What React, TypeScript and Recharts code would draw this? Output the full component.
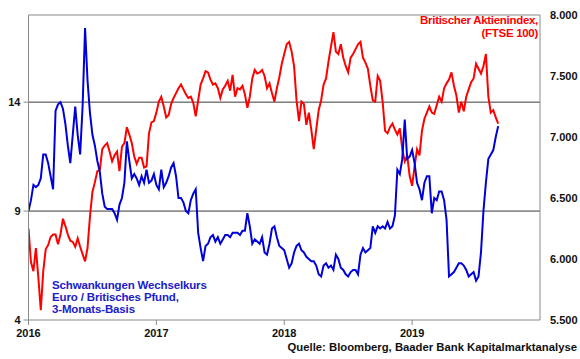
import React from 'react';
import { LineChart, Line, XAxis, YAxis, ReferenceLine } from 'recharts';

// weekly readings, first week of 2016 onwards
const VOLA = [
  9.0, 9.5, 10.2, 10.1, 10.2, 10.5, 11.6, 11.6, 11.2, 10.6, 10.0, 13.6, 13.9, 14.0, 13.7, 13.0, 12.0, 11.2, 12.5, 13.8,
  12.5, 11.6, 13.8, 17.4, 15.0, 13.5, 12.5, 12.0, 11.3, 10.8, 9.8, 9.2, 9.1,
  9.1, 9.1, 8.9, 8.6, 9.3, 9.6, 10.3, 12.2, 11.3, 10.5, 10.7, 10.5, 10.2, 10.6, 10.3, 10.9, 10.3, 10.4, 10.7, 10.2,
  10.0, 10.9, 10.1, 10.3, 10.6, 11.0, 11.2, 10.6, 9.6, 9.6, 9.4, 9.0, 8.9,
  9.5, 9.8, 10.0, 8.0, 7.3, 6.7, 7.4, 7.5, 7.8, 7.9, 7.6, 7.8, 7.5, 7.7, 7.9, 7.9, 7.8, 8.0, 8.0, 8.0,
  7.9, 8.1, 8.1, 8.9, 8.3, 7.5, 7.7, 7.6, 7.5, 7.8, 7.1, 7.0,
  7.5, 8.2, 8.3, 7.8, 7.4, 7.3, 7.2, 6.8, 6.4, 6.6, 7.1, 7.4, 7.5, 7.2, 7.1, 6.9, 6.8, 6.7, 6.7, 6.5,
  6.1, 6.0, 6.5, 6.6, 6.4, 6.5, 6.3, 7.0, 6.8, 6.4, 6.3, 6.1, 6.0,
  6.2, 6.3, 6.3, 6.1, 7.0, 7.3, 7.1, 7.2, 7.3, 8.3, 8.0, 8.3, 8.2, 8.3, 8.2, 8.5, 8.2, 8.3, 8.8, 10.9,
  10.7, 11.4, 13.2, 11.4, 11.5, 11.8, 11.2, 10.3, 10.0, 9.5, 10.3, 10.6, 10.6,
  8.9, 9.6, 9.5, 9.9, 9.9, 9.5, 8.6, 6.0, 6.1, 6.2, 6.4, 6.6, 6.6, 6.5, 6.3, 6.0, 6.1, 6.2, 5.8, 6.0,
  7.1, 9.0, 10.3, 11.4, 11.6, 11.8, 12.4, 12.9,
];

const FTSE = [
  6250, 5975, 5900, 6090, 5850, 5580, 5900, 6080, 6115, 6180, 6200, 6200, 6120, 6200, 6330, 6270, 6200, 6150, 6140, 6100,
  6170, 6100, 6040, 5980, 6090, 6350, 6550, 6630, 6720, 6730, 6900, 6930, 6950,
  6880, 6800, 6850, 6880, 6720, 6920, 6950, 7080, 7020, 6950, 6840, 6780, 6830, 6830, 6750, 6760, 7030, 7120, 7130, 7200,
  7290, 7330, 7250, 7160, 7180, 7270, 7320, 7360, 7400, 7430, 7390, 7350, 7320,
  7330, 7280, 7170, 7300, 7430, 7480, 7540, 7530, 7470, 7430, 7440, 7400, 7320, 7390, 7420, 7460, 7380, 7510, 7330, 7400,
  7390, 7420, 7350, 7240, 7330, 7480, 7550, 7520, 7530, 7550, 7500, 7400,
  7440, 7360, 7290, 7400, 7490, 7600, 7680, 7760, 7780, 7700, 7580, 7300, 7130, 7290, 7270, 7100, 7200, 7060, 6900, 7060,
  7220, 7300, 7430, 7480, 7620, 7740, 7860, 7700, 7680, 7760, 7650, 7580, 7530,
  7650, 7680, 7720, 7760, 7780, 7650, 7610, 7560, 7420, 7300, 7290, 7500, 7460, 7290, 7050, 7030, 7080, 7110, 7060, 7020,
  7070, 6900, 6800, 6850, 6680, 6600, 6760, 6900, 6850, 7050, 7150, 7200, 7250,
  7200, 7190, 7260, 7330, 7290, 7400, 7440, 7470, 7530, 7420, 7340, 7200, 7290, 7210, 7330, 7390, 7450, 7480, 7600, 7560,
  7520, 7580, 7680, 7330, 7200, 7220, 7160, 7110,
];

const YEAR_TICKS = [0, 52, 104, 156];
const YEAR_LABELS = ['2016', '2017', '2018', '2019'];
const LEFT_TICKS = [4, 9, 14];
const RIGHT_TICKS = [5500, 6000, 6500, 7000, 7500, 8000];

const data = VOLA.map((v, i) => ({ week: i, vola: v, ftse: FTSE[i] }));

const FONT = '"Liberation Sans", Arial, sans-serif';
const RED = '#ff0000';
const BLUE = '#0000d8';
const AXIS = '#8a8a8a';
const tickStyle = { fill: '#111', fontSize: 11, fontWeight: 'bold', fontFamily: FONT };

const fmtDE = (v: number) => `${Math.floor(v / 1000)}.${String(v % 1000).padStart(3, '0')}`;

export default function App() {
  return (
    <div style={{ position: 'absolute', left: 0, top: 0, width: 580, height: 359, background: '#fff', fontFamily: FONT }}>
      <LineChart width={580} height={359} data={data} margin={{ top: 15, right: 0, bottom: 0, left: 0 }}>
        <XAxis
          dataKey="week"
          type="number"
          domain={[0, 208]}
          ticks={YEAR_TICKS}
          tickFormatter={(v: number) => YEAR_LABELS[YEAR_TICKS.indexOf(v)]}
          height={39}
          tickSize={5}
          tickMargin={4}
          stroke={AXIS}
          tick={tickStyle}
          allowDataOverflow
        />
        <YAxis
          yAxisId="left"
          domain={[4, 18]}
          ticks={LEFT_TICKS}
          width={28.5}
          tickSize={5}
          tickMargin={3}
          stroke={AXIS}
          tick={tickStyle}
          allowDataOverflow
        />
        <YAxis
          yAxisId="right"
          orientation="right"
          domain={[5500, 8000]}
          ticks={RIGHT_TICKS}
          width={40}
          tickSize={0}
          tickMargin={10}
          stroke={AXIS}
          tick={tickStyle}
          tickFormatter={fmtDE}
          allowDataOverflow
        />
        <ReferenceLine yAxisId="left" y={18} stroke={AXIS} />
        <ReferenceLine yAxisId="left" y={9} stroke="#3a3a3a" />
        <ReferenceLine yAxisId="left" y={14} stroke="#3a3a3a" />
        <Line yAxisId="right" dataKey="ftse" stroke={RED} strokeWidth={2} dot={false} isAnimationActive={false} />
        <Line yAxisId="left" dataKey="vola" stroke={BLUE} strokeWidth={2} dot={false} isAnimationActive={false} />
      </LineChart>
      <div style={{ position: 'absolute', right: 42, top: 14, textAlign: 'right', color: RED, fontSize: 11.5, fontWeight: 'bold', lineHeight: '13px', letterSpacing: -0.3 }}>
        Britischer Aktienindex,<br />(FTSE 100)
      </div>
      <div style={{ position: 'absolute', left: 52, top: 279, color: '#2020c8', fontSize: 11.5, fontWeight: 'bold', lineHeight: '12px', letterSpacing: -0.15 }}>
        Schwankungen Wechselkurs<br />Euro / Britisches Pfund,<br />3-Monats-Basis
      </div>
      <div style={{ position: 'absolute', right: 3, top: 341, color: '#111', fontSize: 11.3, fontWeight: 'bold', lineHeight: '13px' }}>
        Quelle: Bloomberg, Baader Bank Kapitalmarktanalyse
      </div>
    </div>
  );
}
